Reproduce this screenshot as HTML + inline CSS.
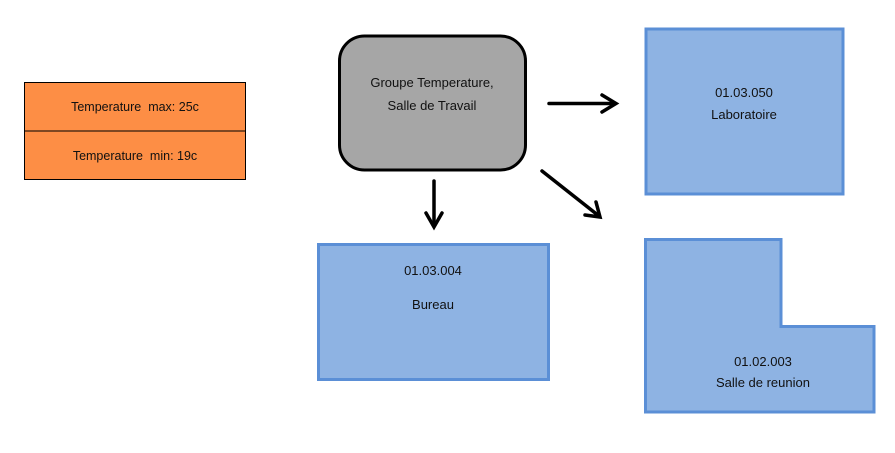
<!DOCTYPE html>
<html><head><meta charset="utf-8"><style>
body{margin:0;background:#fff;}
svg{display:block;font-family:"Liberation Sans",sans-serif;}
</style></head><body>
<svg width="895" height="453" viewBox="0 0 895 453" xmlns="http://www.w3.org/2000/svg">
<rect x="24.5" y="82.5" width="221" height="97" fill="#fd8e45" stroke="#000" stroke-width="1"/>
<line x1="24.5" y1="131" x2="245.5" y2="131" stroke="#000" stroke-width="1"/>
<text x="135" y="111" font-size="12.5" text-anchor="middle" fill="#111" style="white-space:pre">Temperature  max: 25c</text>
<text x="135" y="160" font-size="12.5" text-anchor="middle" fill="#111" style="white-space:pre">Temperature  min: 19c</text>

<rect x="339.5" y="36" width="186" height="134" rx="25" fill="#a6a6a6" stroke="#000" stroke-width="3"/>
<text x="432" y="87" font-size="13" text-anchor="middle" fill="#111">Groupe Temperature,</text>
<text x="432" y="110" font-size="13" text-anchor="middle" fill="#111">Salle de Travail</text>

<rect x="646" y="29" width="197" height="165" fill="#8eb3e3" stroke="#5b8fd6" stroke-width="3"/>
<text x="744" y="97" font-size="13" text-anchor="middle" fill="#111">01.03.050</text>
<text x="744" y="119" font-size="13" text-anchor="middle" fill="#111">Laboratoire</text>

<rect x="318.5" y="244.5" width="230" height="135" fill="#8eb3e3" stroke="#5b8fd6" stroke-width="3"/>
<text x="433" y="275" font-size="13" text-anchor="middle" fill="#111">01.03.004</text>
<text x="433" y="309" font-size="13" text-anchor="middle" fill="#111">Bureau</text>

<polygon points="645.5,239.5 781,239.5 781,326.5 874,326.5 874,412 645.5,412" fill="#8eb3e3" stroke="#5b8fd6" stroke-width="3"/>
<text x="763" y="366" font-size="13" text-anchor="middle" fill="#111">01.02.003</text>
<text x="763" y="387" font-size="13" text-anchor="middle" fill="#111">Salle de reunion</text>

<g stroke="#000" stroke-width="3.5" fill="none" stroke-linecap="round">
<line x1="549" y1="103.5" x2="615" y2="103.5"/>
<polyline points="602,95 616,103.5 602,112"/>
<line x1="434" y1="181" x2="434" y2="226"/>
<polyline points="426,213 434,227 442,213"/>
<line x1="542" y1="171" x2="599" y2="216"/>
<polyline points="596,202 600,217 585,215"/>
</g>
</svg>
</body></html>
